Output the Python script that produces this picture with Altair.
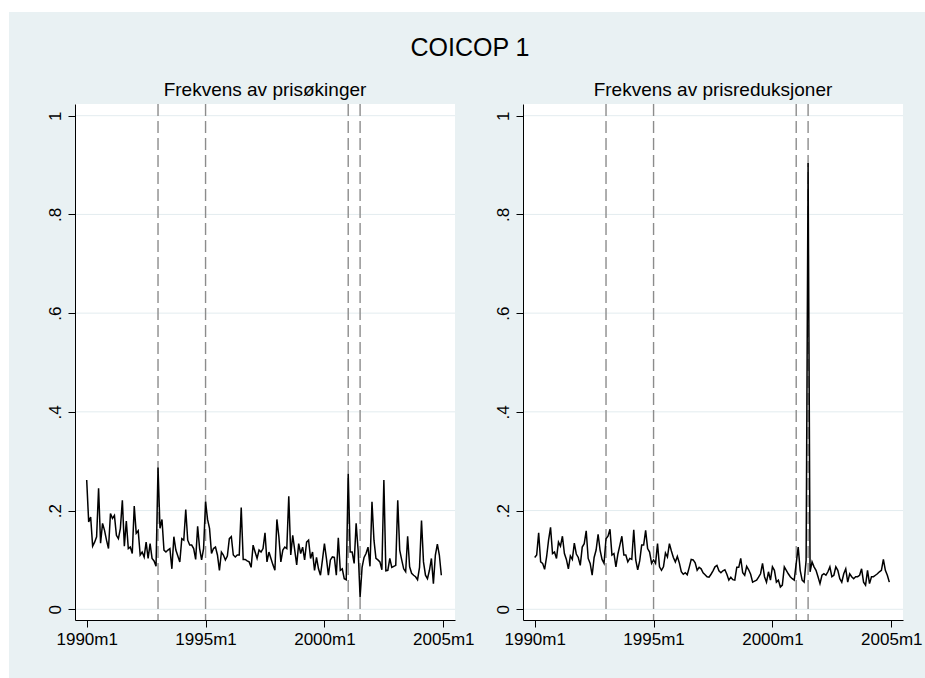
import altair as alt
import pandas as pd

# Monthly series, 1990m1 .. 2004m12
START_YEAR = 1990
N_MONTHS = 180

# Share of prices that went up each month
price_increases = [
    0.262, 0.177, 0.187, 0.128, 0.136, 0.147, 0.245, 0.134, 0.174, 0.160, 0.140, 0.123,
    0.194, 0.184, 0.190, 0.150, 0.143, 0.164, 0.221, 0.128, 0.179, 0.123, 0.126, 0.113,
    0.209, 0.154, 0.159, 0.110, 0.116, 0.106, 0.136, 0.103, 0.133, 0.103, 0.098, 0.087,
    0.287, 0.164, 0.182, 0.120, 0.116, 0.120, 0.123, 0.082, 0.147, 0.120, 0.108, 0.096,
    0.143, 0.140, 0.202, 0.140, 0.130, 0.130, 0.123, 0.101, 0.168, 0.123, 0.100, 0.123,
    0.218, 0.182, 0.164, 0.113, 0.123, 0.126, 0.110, 0.079, 0.116, 0.110, 0.100, 0.108,
    0.143, 0.147, 0.110, 0.106, 0.110, 0.110, 0.206, 0.101, 0.101, 0.098, 0.096, 0.085,
    0.130, 0.116, 0.103, 0.120, 0.116, 0.123, 0.155, 0.096, 0.116, 0.103, 0.090, 0.079,
    0.182, 0.147, 0.096, 0.120, 0.126, 0.123, 0.229, 0.110, 0.150, 0.120, 0.090, 0.133,
    0.113, 0.126, 0.100, 0.136, 0.140, 0.103, 0.116, 0.079, 0.105, 0.082, 0.069, 0.100,
    0.133, 0.103, 0.069, 0.100, 0.106, 0.105, 0.069, 0.145, 0.079, 0.082, 0.062, 0.060,
    0.275, 0.116, 0.116, 0.093, 0.174, 0.120, 0.025, 0.085, 0.105, 0.113, 0.126, 0.087,
    0.218, 0.140, 0.103, 0.100, 0.096, 0.080, 0.262, 0.078, 0.079, 0.103, 0.085, 0.087,
    0.089, 0.221, 0.120, 0.100, 0.082, 0.076, 0.148, 0.086, 0.073, 0.069, 0.066, 0.060,
    0.085, 0.180, 0.096, 0.069, 0.062, 0.079, 0.103, 0.052, 0.110, 0.132, 0.110, 0.069,
]

# Share of prices that went down each month
price_reductions = [
    0.105, 0.110, 0.155, 0.096, 0.093, 0.081, 0.106, 0.140, 0.166, 0.113, 0.116, 0.103,
    0.136, 0.128, 0.148, 0.113, 0.101, 0.082, 0.108, 0.101, 0.134, 0.112, 0.105, 0.089,
    0.126, 0.133, 0.159, 0.103, 0.093, 0.069, 0.105, 0.120, 0.152, 0.120, 0.101, 0.093,
    0.143, 0.148, 0.162, 0.110, 0.113, 0.086, 0.112, 0.130, 0.148, 0.110, 0.110, 0.096,
    0.103, 0.101, 0.161, 0.100, 0.080, 0.098, 0.130, 0.130, 0.160, 0.123, 0.116, 0.093,
    0.100, 0.093, 0.133, 0.086, 0.079, 0.086, 0.114, 0.106, 0.133, 0.118, 0.105, 0.096,
    0.107, 0.094, 0.076, 0.071, 0.074, 0.070, 0.085, 0.101, 0.100, 0.094, 0.079, 0.085,
    0.082, 0.074, 0.070, 0.066, 0.065, 0.071, 0.078, 0.086, 0.089, 0.078, 0.074, 0.078,
    0.080, 0.071, 0.059, 0.065, 0.060, 0.059, 0.085, 0.085, 0.103, 0.074, 0.069, 0.087,
    0.080, 0.071, 0.055, 0.057, 0.059, 0.065, 0.072, 0.093, 0.066, 0.055, 0.076, 0.059,
    0.086, 0.079, 0.055, 0.059, 0.045, 0.049, 0.086, 0.079, 0.072, 0.066, 0.062, 0.059,
    0.093, 0.126, 0.079, 0.059, 0.055, 0.099, 0.904, 0.076, 0.096, 0.086, 0.079, 0.066,
    0.052, 0.069, 0.072, 0.069, 0.076, 0.086, 0.066, 0.069, 0.086, 0.079, 0.062, 0.055,
    0.072, 0.082, 0.055, 0.072, 0.066, 0.062, 0.066, 0.066, 0.069, 0.082, 0.055, 0.049,
    0.079, 0.052, 0.066, 0.066, 0.069, 0.072, 0.076, 0.079, 0.101, 0.079, 0.069, 0.055,
]

# Reference dates marked with dashed lines: 1993m1, 1995m1, 2001m1, 2001m7
event_dates = [1993.0, 1995.0, 2001.0, 2001.5]

x_tick_years = [1990, 1995, 2000, 2005]
y_tick_values = [0, 0.2, 0.4, 0.6, 0.8, 1]

main_title = "COICOP 1"
panel_titles = ["Frekvens av prisøkinger", "Frekvens av prisreduksjoner"]

time_axis = [START_YEAR + i / 12 for i in range(N_MONTHS)]

# Geometry (pixels)
PANEL_W, PANEL_H = 380, 516
GAP = 68
PAD_LEFT, PAD_TOP = 9, 12
VIEW_LEFT, VIEW_TOP = 75, 104
CANVAS_W, CANVAS_H = 925, 678

BG = "#E9F1F3"
GRID = "#E3ECEF"
FONT = "Liberation Sans"

x_scale = alt.Scale(domain=[1989.508, 2005.492], nice=False, zero=False)
y_scale = alt.Scale(domain=[-0.0217, 1.0237], nice=False, zero=False)

x_axis = alt.Axis(
    values=x_tick_years,
    labelExpr="datum.value + 'm1'",
    title=None,
    grid=False,
    domainColor="black",
    domainWidth=1,
    tickColor="black",
    tickSize=7,
    tickWidth=1,
    labelFont=FONT,
    labelFontSize=17,
    labelColor="black",
    labelPadding=4,
    labelFlush=False,
    labelOverlap=False,
    zindex=1,
)

y_axis = alt.Axis(
    values=y_tick_values,
    labelExpr=(
        "datum.value == 0 ? '0' : datum.value == 1 ? '1' : "
        "replace(format(datum.value, '.1f'), '0.', '.')"
    ),
    title=None,
    grid=False,
    domainColor="black",
    domainWidth=1,
    tickColor="black",
    tickSize=7,
    tickWidth=1,
    labelFont=FONT,
    labelFontSize=17,
    labelColor="black",
    labelAngle=270,
    labelAlign="center",
    labelBaseline="alphabetic",
    labelPadding=8,
    labelFlush=False,
    labelOverlap=False,
    zindex=1,
)

X = alt.X("time:Q", scale=x_scale, axis=x_axis)
Y = alt.Y("share:Q", scale=y_scale, axis=y_axis)

one_row = pd.DataFrame({"k": [0]})


def text_layer(label, px, py, size):
    return (
        alt.Chart(pd.DataFrame({"label": [label]}))
        .mark_text(font=FONT, fontSize=size, color="black", align="center", baseline="alphabetic")
        .encode(text="label:N", x=alt.value(px), y=alt.value(py))
    )


def panel(values, with_frame):
    series = pd.DataFrame({"time": time_axis, "share": values})

    plot_fill = alt.Chart(one_row).mark_rect(color="white").encode(
        x=alt.value(0), x2=alt.value(PANEL_W), y=alt.value(0), y2=alt.value(PANEL_H)
    )
    grid = (
        alt.Chart(pd.DataFrame({"share": y_tick_values}))
        .mark_rule(color=GRID, strokeWidth=1)
        .encode(y=Y)
    )
    events = (
        alt.Chart(pd.DataFrame({"time": event_dates}))
        .mark_rule(color="#8C8C8C", strokeWidth=1.4, strokeDash=[12, 5])
        .encode(x=X)
    )
    line = alt.Chart(series).mark_line(color="black", strokeWidth=1.5).encode(x=X, y=Y)

    layers = [plot_fill, grid, events, line]
    if with_frame:
        # light surround for the whole figure, plus the figure's headings
        backdrop = alt.Chart(one_row).mark_rect(color=BG).encode(
            x=alt.value(PAD_LEFT - VIEW_LEFT),
            x2=alt.value(CANVAS_W - VIEW_LEFT),
            y=alt.value(PAD_TOP - VIEW_TOP),
            y2=alt.value(CANVAS_H - VIEW_TOP),
        )
        heads = [
            text_layer(main_title, 470 - VIEW_LEFT, 56 - VIEW_TOP, 25),
            text_layer(panel_titles[0], PANEL_W / 2, 96 - VIEW_TOP, 19),
            text_layer(panel_titles[1], PANEL_W + GAP + PANEL_W / 2, 96 - VIEW_TOP, 19),
        ]
        layers = [backdrop] + layers + heads
    return alt.layer(*layers).properties(width=PANEL_W, height=PANEL_H)


left = panel(price_increases, True)
right = panel(price_reductions, False)

chart = (
    alt.hconcat(left, right, spacing=GAP, bounds="flush")
    .properties(
        padding={"left": PAD_LEFT, "top": PAD_TOP, "right": 0, "bottom": 0},
        background="white",
    )
    .configure_view(stroke=None)
)

chart.save("out.html", embed_options={"renderer": "svg", "actions": False})
